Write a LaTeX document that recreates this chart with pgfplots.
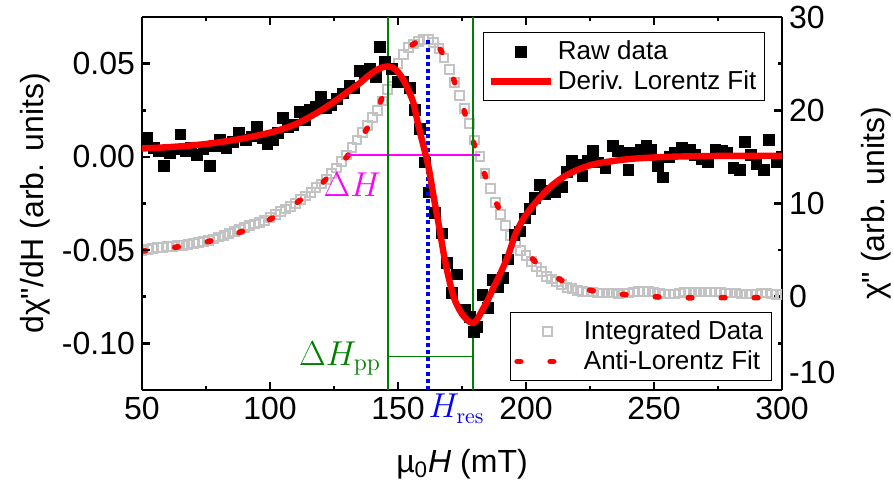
\documentclass[border=0pt]{standalone}
\usepackage[no-math]{fontspec}
\setmainfont{Liberation Sans}
\usepackage{pgfplots}
\pgfplotsset{compat=1.18}

\definecolor{fitred}{RGB}{255,0,0}
\definecolor{intgray}{RGB}{195,195,195}
\definecolor{ogreen}{RGB}{0,128,0}
\definecolor{oblue}{RGB}{0,0,255}
\definecolor{omag}{RGB}{255,0,255}

\pgfplotsset{
  myax/.style={
    scale only axis, width=320pt, height=186.5pt,
    at={(71pt,56pt)}, anchor=south west,
    xmin=50, xmax=300,
    clip marker paths=true,
    axis line style={line width=1.3pt},
    tick style={line width=1.3pt, black},
    major tick length=4pt, minor tick length=2pt,
    tick align=inside,
    /pgf/number format/assume math mode=true,
    tick label style={font=\fontsize{16}{19}\selectfont},
    label style={font=\fontsize{16}{19}\selectfont},
    legend style={font=\fontsize{13}{15.6}\selectfont, draw=black, line width=0.6pt, inner xsep=2pt, inner ysep=2pt},
    legend cell align=left,
    legend image code/.code={\draw[mark repeat=2,mark phase=2,##1] plot coordinates {(0pt,0pt) (15pt,0pt) (30pt,0pt)};},
  }
}

\begin{document}
\begin{tikzpicture}
\useasboundingbox (0,0) rectangle (447pt,251pt);

% ---------- right axis: integrated data ----------
\begin{axis}[myax,
  axis x line=none, axis y line*=right,
  ymin=-10, ymax=30, ytick={0,10,20,30}, minor ytick={-5,5,15,25},
  extra y ticks={-10}, extra y tick style={yticklabel style={yshift=9pt}},
  ylabel={χ\textquotedbl\ (arb. units)},
  ylabel style={at={(axis description cs:1.147,0.5)}, anchor=center},
  legend style={at={(0.984,0.024)}, anchor=south east},
]
\addplot[only marks, mark=square, mark size=2.2pt, intgray, mark options={line width=1pt, intgray}] coordinates {
(50,5.0) (52,5.1) (54,5.2) (56,5.3) (58,5.3) (60,5.4) (62,5.4) (64,5.5) (66,5.5) (68,5.6)
(70,5.7) (72,5.8) (74,5.9) (76,6.0) (78,6.2) (80,6.4) (82,6.6) (84,6.8) (86,7.0) (88,7.2)
(90,7.4) (92,7.6) (94,7.8) (96,8.0) (98,8.2) (100,8.5) (102,8.8) (104,9.1) (106,9.4) (108,9.7)
(110,10.0) (112,10.4) (114,10.8) (116,11.2) (118,11.7) (120,12.1) (122,12.6) (124,13.2) (126,13.8) (128,14.5)
(130,15.2) (132,16.0) (134,16.8) (136,17.6) (138,18.4) (140,19.2) (142,20.0) (144,21.0) (146,22.2) (148,23.5)
(150,25.0) (152,26.0) (154,26.7) (156,27.1) (158,27.4) (160,27.6) (162,27.6) (164,27.3) (166,26.6) (168,25.6)
(170,24.4) (172,23.0) (174,21.6) (176,20.2) (178,18.6) (180,16.8) (182,15.0) (184,13.2) (186,11.6) (188,10.1)
(190,8.8) (192,7.6) (194,6.6) (196,5.8) (198,5.0) (200,4.4) (202,3.8) (204,3.2) (206,2.7) (208,2.2)
(210,1.9) (212,1.6) (214,1.3) (216,1.0) (218,0.9) (220,0.7) (222,0.6) (224,0.5) (226,0.5) (228,0.4)
(230,0.4) (232,0.4) (234,0.4) (236,0.3) (238,0.4) (240,0.4) (242,0.5) (244,0.6) (246,0.6) (248,0.6)
(250,0.5) (252,0.4) (254,0.3) (256,0.3) (258,0.3) (260,0.4) (262,0.5) (264,0.5) (266,0.5) (268,0.5)
(270,0.5) (272,0.5) (274,0.5) (276,0.5) (278,0.4) (280,0.4) (282,0.4) (284,0.3) (286,0.3) (288,0.3)
(290,0.3) (292,0.4) (294,0.4) (296,0.3) (298,0.2) (300,0.2)
};
\addlegendentry{Integrated Data}
\addplot[fitred, line width=2.8pt, line cap=round, dash pattern=on 1.8pt off 14.7pt, smooth, tension=0.5] coordinates {
(50,4.9) (60,5.2) (70,5.6) (80,6.2) (90,7.1) (100,8.3) (105,9.1) (110,10.0) (115,11.0) (120,12.1)
(125,13.5) (130,15.0) (135,16.8) (140,19.0) (143,20.8) (146,22.8) (149,24.6) (152,26.0) (155,26.9) (158,27.4)
(161,27.6) (164,27.3) (167,26.3) (170,24.6) (173,22.3) (176,19.8) (179,17.0) (182,14.5) (185,12.3) (188,10.3)
(191,8.6) (194,7.1) (197,5.8) (200,4.8) (205,3.4) (210,2.4) (215,1.6) (220,1.1) (225,0.7) (230,0.5)
(240,0.2) (250,0.0) (260,-0.1) (280,-0.1) (300,-0.1)
};
\addlegendentry{Anti-Lorentz Fit}
\addplot[omag, line width=1pt, forget plot] coordinates {(130,15.2) (182,15.2)};
\end{axis}

% ---------- left axis: derivative ----------
\begin{axis}[myax,
  axis y line*=left,
  ymin=-0.125, ymax=0.075,
  ytick={-0.10,-0.05,0,0.05}, minor y tick num=1,
  xtick={50,100,...,300}, minor x tick num=1,
  yticklabel style={/pgf/number format/.cd, fixed, fixed zerofill, precision=2},
  ylabel={dχ\textquotedbl/dH (arb. units)},
  ylabel style={at={(axis description cs:-0.167,0.5)}, anchor=center},
  xlabel={µ\textsubscript{0}\textit{H} (mT)},
  xlabel style={at={(axis description cs:0.5,0)}, anchor=center, yshift=-37pt},
  legend style={at={(0.9734,0.9598)}, anchor=north east},
]
\addplot[ogreen, line width=0.8pt, forget plot] coordinates {(146.1,-0.125) (146.1,0.075)};
\addplot[ogreen, line width=0.8pt, forget plot] coordinates {(179.3,-0.125) (179.3,0.075)};
\addplot[ogreen, line width=0.8pt, forget plot] coordinates {(146.1,-0.107) (179.3,-0.107)};
\addplot[only marks, mark=square*, mark size=2.7pt, black] coordinates {
(50.0,0.008) (52.0,0.010) (54.5,0.005) (56.5,0.003) (58.5,-0.005) (61.0,0.002) (63.0,0.004) (65.0,0.012) (67.0,0.003) (69.0,0.005)
(71.5,0.001) (74.0,0.004) (76.5,-0.005) (78.5,0.006) (80.5,0.009) (83.0,0.005) (85.5,0.008) (88.0,0.013) (90.5,0.009) (93.0,0.011)
(95.0,0.016) (97.0,0.010) (99.0,0.007) (101.0,0.009) (103.0,0.013) (105.0,0.021) (107.0,0.016) (109.0,0.017) (111.5,0.024) (113.5,0.020)
(115.5,0.025) (118.0,0.027) (120.0,0.032) (122.0,0.026) (124.0,0.028) (126.0,0.031) (128.5,0.034) (131.0,0.038) (133.0,0.037) (135.0,0.046)
(137.0,0.045) (139.0,0.047) (141.5,0.043) (143.0,0.059) (145.0,0.051) (147.5,0.047) (150.0,0.040) (152.0,0.040) (154.5,0.037) (156.5,0.025)
(158.5,0.015) (160.5,-0.003) (162.0,-0.019) (164.5,-0.030) (167.0,-0.041) (169.0,-0.057) (171.0,-0.073) (173.0,-0.063) (176.0,-0.082) (178.0,-0.086)
(179.5,-0.094) (181.0,-0.091) (183.0,-0.074) (185.0,-0.081) (187.0,-0.066) (189.0,-0.070) (191.0,-0.065) (193.0,-0.055) (195.5,-0.042) (197.5,-0.040)
(199.5,-0.033) (201.5,-0.028) (203.5,-0.022) (205.5,-0.015) (207.5,-0.020) (209.5,-0.018) (211.5,-0.019) (214.0,-0.016) (216.0,-0.008) (218.0,-0.002)
(220.0,-0.004) (222.0,-0.010) (224.0,-0.002) (226.0,0.003) (228.0,-0.003) (231.0,-0.006) (234.0,0.006) (236.0,0.003) (238.0,0.002) (240.0,-0.007)
(242.5,0.002) (245.0,0.004) (247.0,0.006) (249.0,0.004) (251.5,-0.005) (253.5,-0.011) (256.0,0.000) (258.0,0.002) (261.0,0.005) (264.0,0.004)
(266.0,0.001) (268.5,-0.001) (271.0,-0.003) (274.0,0.004) (276.5,0.003) (278.5,0.002) (281.0,-0.006) (283.5,-0.007) (285.5,0.008) (288.0,0.001)
(290.0,-0.004) (293.0,-0.007) (295.0,0.009) (298.0,-0.003) (300.0,0.000)
};
\addlegendentry{Raw data}
\addplot[oblue, line width=2pt, dash pattern=on 2pt off 1.6pt, forget plot] coordinates {(161.6,-0.125) (161.6,0.063)};
\addplot[fitred, line width=3.2pt, smooth, tension=0.5] coordinates {
(50,0.0045) (60,0.0052) (70,0.0062) (80,0.0078) (90,0.0100) (100,0.0130) (105,0.0150) (110,0.0175) (115,0.0210) (120,0.0250)
(125,0.0295) (130,0.0345) (135,0.0395) (138,0.0430) (141,0.0460) (143.5,0.0478) (146,0.0485) (148,0.0478) (150,0.0455) (152,0.0415)
(154,0.0360) (156,0.0290) (158,0.0165) (160,0.0055) (162,-0.0060) (164,-0.0220) (166,-0.0370) (168,-0.0530) (170,-0.0660) (172,-0.0760)
(174,-0.0820) (176,-0.0860) (178,-0.0885) (179.5,-0.0890) (181,-0.0870) (183,-0.0820) (185,-0.0770) (187,-0.0710) (190,-0.0625) (193,-0.0530)
(196,-0.0410) (200,-0.0310) (205,-0.0225) (210,-0.0155) (215,-0.0105) (220,-0.0070) (225,-0.0045) (230,-0.0030) (240,-0.0012) (250,-0.0003)
(260,0.0002) (275,0.0005) (300,0.0006)
};
\addlegendentry{Deriv. Lorentz Fit}
\coordinate (dh) at (axis cs:143.5,-0.015);
\coordinate (dhpp) at (axis cs:143.5,-0.112);
\coordinate (hres) at (axis cs:161.8,-0.125);
\end{axis}

\node[omag, anchor=east, inner sep=0pt, font=\fontsize{17}{20}\selectfont] at (dh) {$\Delta H$};
\node[ogreen, anchor=base east, inner sep=0pt, font=\fontsize{17}{20}\selectfont] at (dhpp) {$\Delta H_{\mathrm{pp}}$};
\node[oblue, anchor=base west, inner sep=0pt, yshift=-14pt, font=\fontsize{16}{19}\selectfont] at (hres) {$H_{\mathrm{res}}$};
\end{tikzpicture}
\end{document}
